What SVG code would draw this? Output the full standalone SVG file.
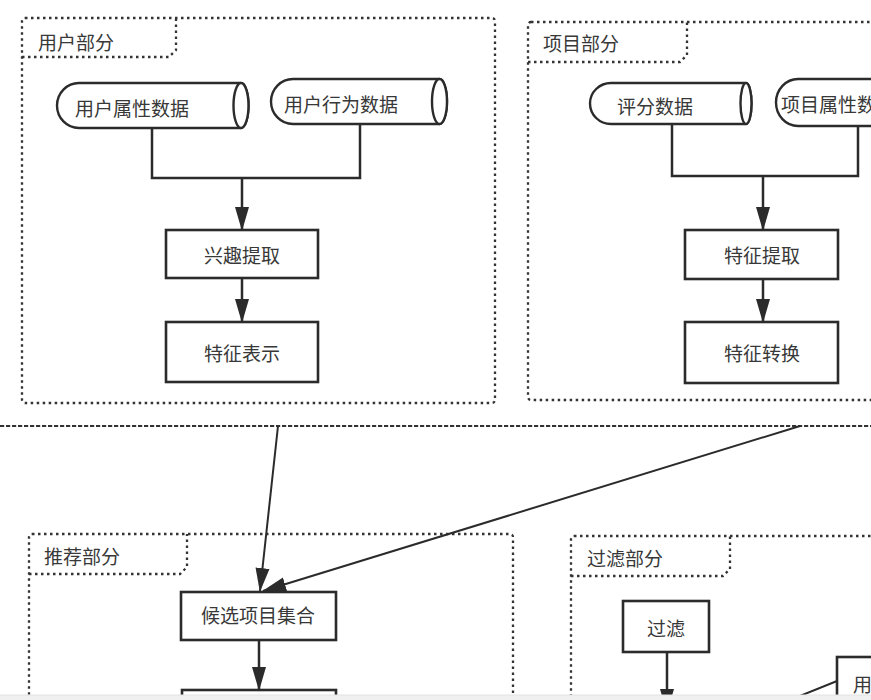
<svg xmlns="http://www.w3.org/2000/svg" width="871" height="700" viewBox="0 0 871 700">
<style>
text{font-family:"Noto Sans CJK SC","Noto Sans",sans-serif;font-size:19px;fill:#383838;dominant-baseline:central}
.c{text-anchor:middle}
.frame{fill:none;stroke:#333;stroke-width:2.3;stroke-dasharray:2.5 3.5}
.outer{fill:none;stroke:#333;stroke-width:2.2;stroke-dasharray:4.2 1.8}
.box{fill:#fff;stroke:#2b2b2b;stroke-width:2.6}
.cyl{fill:#fff;stroke:#2b2b2b;stroke-width:2.4}
.ln{fill:none;stroke:#2b2b2b;stroke-width:2.5}
.dg{fill:none;stroke:#2b2b2b;stroke-width:2}
</style>
<defs>
<marker id="ah" markerUnits="userSpaceOnUse" markerWidth="24" markerHeight="16" refX="23" refY="8" orient="auto">
<path d="M0,1 L24,8 L0,15 Z" fill="#2b2b2b"/>
</marker>
</defs>
<rect width="871" height="700" fill="#fff"/>

<g id="frames">
<g id="user-frame">
<rect class="frame" x="22" y="18" width="473" height="385" rx="3"/>
<path class="frame" d="M22,57 L169,57 L176,50 L176,18"/>
<text x="38" y="41">用户部分</text>
</g>
<g id="item-frame">
<rect class="frame" x="528" y="22" width="400" height="378" rx="3"/>
<path class="frame" d="M528,62 L680,62 L687,55 L687,22"/>
<text x="543" y="42">项目部分</text>
</g>
<line id="outer-frame" class="outer" x1="0" y1="426" x2="871" y2="426"/>
<g id="rec-frame">
<rect class="frame" x="29" y="534" width="484" height="200" rx="3"/>
<path class="frame" d="M29,574 L180,574 L187,567 L187,534"/>
<text x="44" y="555">推荐部分</text>
</g>
<g id="filter-frame">
<rect class="frame" x="571" y="536" width="400" height="200" rx="3"/>
<path class="frame" d="M571,576 L723,576 L730,569 L730,536"/>
<text x="587" y="557">过滤部分</text>
</g>
</g>

<g id="connectors">
<path class="ln" d="M152,128 V178 H360 V124"/>
<line class="ln" x1="242" y1="178" x2="242" y2="230" marker-end="url(#ah)"/>
<line class="ln" x1="242" y1="278" x2="242" y2="322" marker-end="url(#ah)"/>
<path class="ln" d="M672,124 V176 H858 V126"/>
<line class="ln" x1="763" y1="176" x2="763" y2="230" marker-end="url(#ah)"/>
<line class="ln" x1="763" y1="279" x2="763" y2="322" marker-end="url(#ah)"/>
<line class="dg" x1="278" y1="426" x2="260" y2="591" marker-end="url(#ah)"/>
<line class="dg" x1="800" y1="426" x2="263" y2="591" marker-end="url(#ah)"/>
<line class="ln" x1="259" y1="640" x2="259" y2="690" marker-end="url(#ah)"/>
<line class="ln" x1="667" y1="652" x2="667" y2="712" marker-end="url(#ah)"/>
<line class="dg" x1="837" y1="681" x2="785" y2="702"/>
</g>

<g id="user-attr">
<path class="cyl" d="M79,83 H241 A7.5,22.5 0 0 1 241,128 H79 A22,22.5 0 0 1 79,83 Z"/>
<ellipse class="cyl" cx="241" cy="105.5" rx="7.5" ry="22.5"/>
<text class="c" x="132" y="107">用户属性数据</text>
</g>
<g id="user-behavior">
<path class="cyl" d="M293,79 H439.5 A7.5,22.5 0 0 1 439.5,124 H293 A22,22.5 0 0 1 293,79 Z"/>
<ellipse class="cyl" cx="439.5" cy="101.5" rx="7.5" ry="22.5"/>
<text class="c" x="341" y="103">用户行为数据</text>
</g>
<g id="interest-extract">
<rect class="box" x="166" y="230" width="152" height="48"/>
<text class="c" x="242" y="254">兴趣提取</text>
</g>
<g id="feature-repr">
<rect class="box" x="166" y="322" width="152" height="60"/>
<text class="c" x="242" y="352">特征表示</text>
</g>

<g id="rating-data">
<path class="cyl" d="M611,83 H746 A5.5,20.5 0 0 1 746,124 H611 A21,20.5 0 0 1 611,83 Z"/>
<ellipse class="cyl" cx="746" cy="103.5" rx="5.5" ry="20.5"/>
<text class="c" x="655" y="105">评分数据</text>
</g>
<g id="item-attr">
<path class="cyl" d="M798,79 H960 A7.5,23.5 0 0 1 960,126 H798 A22,23.5 0 0 1 798,79 Z"/>
<text x="781" y="103">项目属性数据</text>
</g>
<g id="feature-extract">
<rect class="box" x="685" y="230" width="153" height="49"/>
<text class="c" x="762" y="254">特征提取</text>
</g>
<g id="feature-transform">
<rect class="box" x="685" y="322" width="153" height="61"/>
<text class="c" x="762" y="352">特征转换</text>
</g>

<g id="candidate-set">
<rect class="box" x="181" y="592" width="155" height="48"/>
<text class="c" x="258" y="614">候选项目集合</text>
</g>
<g id="next-box">
<rect class="box" x="182" y="690" width="154" height="60"/>
</g>
<g id="filter">
<rect class="box" x="623" y="601" width="86" height="51"/>
<text class="c" x="666" y="627">过滤</text>
</g>
<g id="user-box">
<rect class="box" x="837" y="657" width="120" height="80"/>
<text x="853" y="683">用</text>
</g>

<rect x="0" y="695" width="871" height="5" fill="#f0f0f0"/>
<line x1="0" y1="695" x2="871" y2="695" stroke="#e2e2e2" stroke-width="1"/>
</svg>
